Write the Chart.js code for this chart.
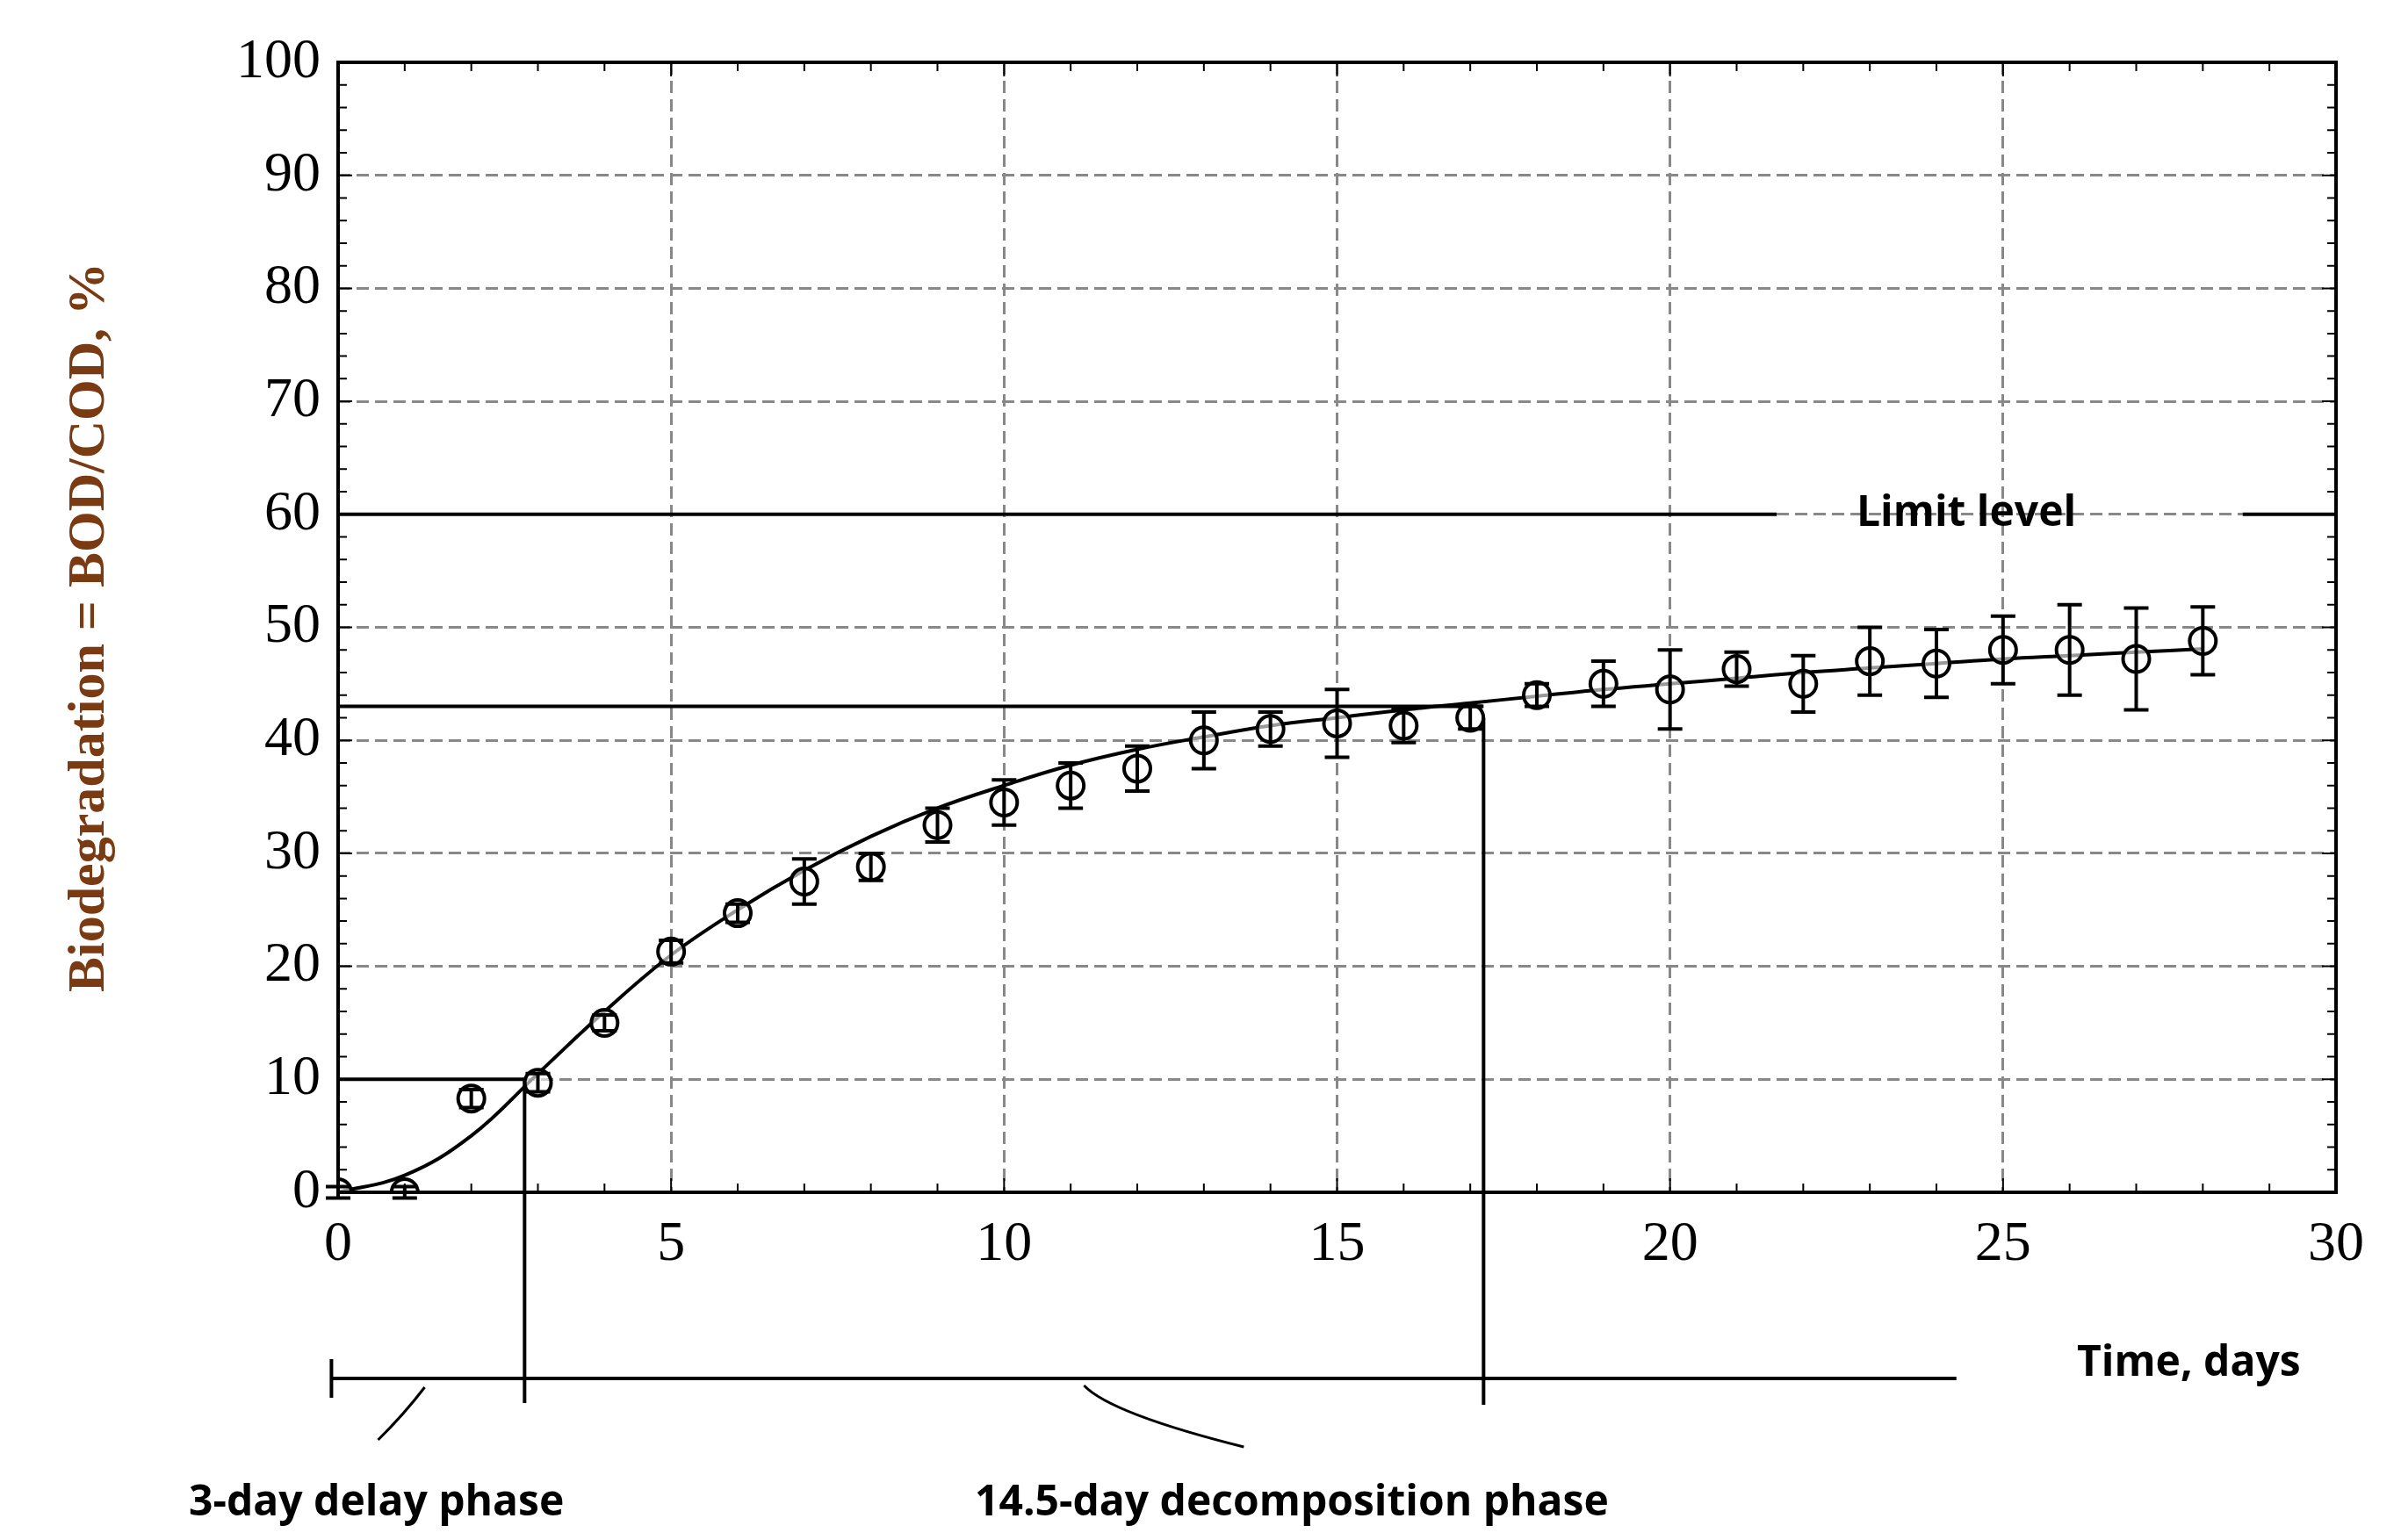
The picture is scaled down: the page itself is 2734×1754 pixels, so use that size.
<!DOCTYPE html>
<html><head><meta charset="utf-8">
<script src="https://cdn.jsdelivr.net/npm/chart.js@4/dist/chart.umd.min.js"></script>
<style>html,body{margin:0;padding:0;background:#fff}#w{width:2734px;height:1754px}</style>
</head><body><div id="w"><canvas id="c"></canvas></div>
<script>
const days = [0,1,2,3,4,5,6,7,8,9,10,11,12,13,14,15,16,17,18,19,20,21,22,23,24,25,26,27,28];
const measured = [0,0,8.3,9.7,15,21.3,24.7,27.5,28.8,32.5,34.5,36,37.5,40,41,41.5,41.3,42,44,45,44.5,46.3,45,47,46.8,48,48,47.2,48.8];
const errors = [0.5,0.5,0.8,0.8,0.7,1,0.8,2,1.2,1.5,2,2,2,2.5,1.5,3,1.5,1,1,2,3.5,1.5,2.5,3,3,3,4,4.5,3];
const fitted = [0,1.5,5,10.5,16,21,25,28.5,31.5,34,36,37.8,39.2,40.3,41.3,42,42.7,43.3,43.9,44.5,45,45.5,46,46.4,46.8,47.2,47.5,47.8,48.1];
const xTicks = [0,5,10,15,20,25,30];
const yTicks = [0,10,20,30,40,50,60,70,80,90,100];
const limitLevel = 60, plateauLevel = 43, lagLevel = 10;
const lagEnd = 2.8, decompEnd = 17.2;

const ann = {
  id:'ann',
  afterDatasetsDraw(ch){
    const c=ch.ctx, x=ch.scales.x, y=ch.scales.y, a=ch.chartArea;
    c.save();
    c.strokeStyle='#000'; c.lineWidth=4;
    c.strokeRect(a.left,a.top,a.right-a.left,a.bottom-a.top);
    c.lineWidth=2;
    for(let v=0;v<=30;v+=1){const px=x.getPixelForValue(v);const L=v%5?10:16;
      c.beginPath();c.moveTo(px,a.bottom);c.lineTo(px,a.bottom-L);c.moveTo(px,a.top);c.lineTo(px,a.top+L);c.stroke();}
    for(let v=0;v<=100;v+=2){const py=y.getPixelForValue(v);const L=v%10?10:16;
      c.beginPath();c.moveTo(a.left,py);c.lineTo(a.left+L,py);c.moveTo(a.right,py);c.lineTo(a.right-L,py);c.stroke();}
    c.lineWidth=4;
    days.forEach((d,i)=>{const px=x.getPixelForValue(d),t=y.getPixelForValue(measured[i]+errors[i]),b=y.getPixelForValue(measured[i]-errors[i]);
      c.beginPath();c.moveTo(px,t);c.lineTo(px,b);c.moveTo(px-14,t);c.lineTo(px+14,t);c.moveTo(px-14,b);c.lineTo(px+14,b);c.stroke();});
    const hl=(v,x0,x1)=>{const py=y.getPixelForValue(v);c.beginPath();c.moveTo(x.getPixelForValue(x0),py);c.lineTo(x.getPixelForValue(x1),py);c.stroke();};
    hl(limitLevel,0,21.6); hl(limitLevel,28.6,30); hl(plateauLevel,0,decompEnd); hl(lagLevel,0,lagEnd);
    const bl=a.bottom+212;
    c.beginPath();
    c.moveTo(x.getPixelForValue(lagEnd),y.getPixelForValue(lagLevel));c.lineTo(x.getPixelForValue(lagEnd),bl+28);
    c.moveTo(x.getPixelForValue(decompEnd),y.getPixelForValue(42));c.lineTo(x.getPixelForValue(decompEnd),bl+30);
    c.moveTo(x.getPixelForValue(-0.1),bl);c.lineTo(x.getPixelForValue(24.3),bl);
    c.moveTo(x.getPixelForValue(-0.1),bl-22);c.lineTo(x.getPixelForValue(-0.1),bl+22);
    c.stroke();
    c.lineWidth=3;
    c.beginPath();c.moveTo(x.getPixelForValue(1.3),bl+10);c.quadraticCurveTo(x.getPixelForValue(1.0),bl+40,x.getPixelForValue(0.6),bl+70);c.stroke();
    c.beginPath();c.moveTo(x.getPixelForValue(11.2),bl+8);c.quadraticCurveTo(x.getPixelForValue(11.6),bl+40,x.getPixelForValue(13.6),bl+78);c.stroke();
    c.fillStyle='#000';c.font='bold 48px "Open Sans", "Liberation Sans", sans-serif';c.textBaseline='middle';
    c.fillText('Limit level',x.getPixelForValue(22.8),y.getPixelForValue(limitLevel));
    c.fillText('Time, days',2365,a.bottom+195);
    c.fillText('3-day delay phase',215,a.bottom+354);
    c.fillText('14.5-day decomposition phase',1110,a.bottom+354);
    c.restore();
  }
};

new Chart(document.getElementById('c'),{
  type:'scatter',
  data:{datasets:[
    {label:'measured',data:days.map((d,i)=>({x:d,y:measured[i]})),pointRadius:15,pointBorderWidth:4,pointBorderColor:'#000',pointBackgroundColor:'rgba(255,255,255,0.6)',showLine:false,order:1},
    {label:'fit',data:days.map((d,i)=>({x:d,y:fitted[i]})),showLine:true,tension:0.4,borderColor:'#000',borderWidth:4,pointRadius:0,order:2}
  ]},
  plugins:[ann],
  options:{
    responsive:true,maintainAspectRatio:false,animation:false,
    layout:{padding:{top:71,right:74,left:62,bottom:0}},
    plugins:{legend:{display:false},tooltip:{enabled:false}},
    scales:{
      x:{type:'linear',min:0,max:30,afterBuildTicks:s=>{s.ticks=xTicks.map(v=>({value:v}));},
        afterFit:s=>{s.height=396;},
        grid:{color:'#888',lineWidth:3,drawTicks:false},border:{display:false,dash:[14,7]},
        ticks:{padding:22,color:'#000',font:{family:'"Liberation Serif", serif',size:64}}},
      y:{type:'linear',min:0,max:100,afterBuildTicks:s=>{s.ticks=yTicks.map(v=>({value:v}));},
        afterFit:s=>{s.width=323;},
        grid:{color:'#888',lineWidth:3,drawTicks:false},border:{display:false,dash:[14,7]},
        title:{display:true,text:'Biodegradation = BOD/COD, %',color:'#7a3a12',padding:{bottom:30},font:{family:'"Liberation Serif", serif',size:60,weight:'bold'}},
        ticks:{padding:20,color:'#000',font:{family:'"Liberation Serif", serif',size:64}}}
    }
  }
});
</script></body></html>
